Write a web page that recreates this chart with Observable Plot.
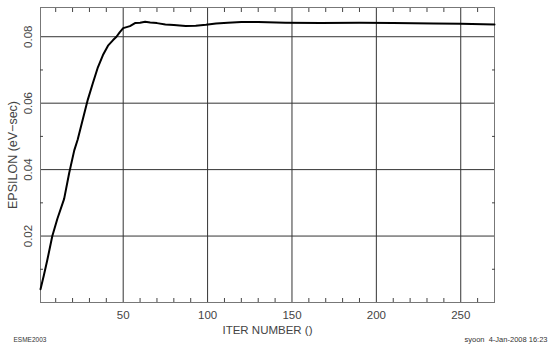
<!DOCTYPE html>
<html>
<head>
<meta charset="utf-8">
<script src="https://cdn.jsdelivr.net/npm/d3@7"></script>
<script src="https://cdn.jsdelivr.net/npm/@observablehq/plot@0.6"></script>
<style>
  html, body { margin: 0; padding: 0; background: white; }
</style>
</head>
<body>
<div id="chart"></div>
<script>
const iterNumber = [1, 3, 5, 8, 11, 15, 18, 21, 23, 26, 29, 32, 35, 38, 41, 44, 46, 48, 50, 54, 57, 60, 63, 66, 70, 75, 80, 87, 93, 99, 105, 112, 120, 130, 146, 167, 190, 210, 234, 250, 270];
const epsilon = [0.0040, 0.0082, 0.0127, 0.0200, 0.0252, 0.0312, 0.0390, 0.0458, 0.0490, 0.0550, 0.0610, 0.0660, 0.0708, 0.0745, 0.0773, 0.0790, 0.0800, 0.0814, 0.0826, 0.0832, 0.0841, 0.0842, 0.0845, 0.0843, 0.0841, 0.0837, 0.0835, 0.0832, 0.0833, 0.0836, 0.0840, 0.0842, 0.0844, 0.0844, 0.0842, 0.0841, 0.0842, 0.0841, 0.0840, 0.0839, 0.0837];
const xTicks = [50, 100, 150, 200, 250];
const xMinor = [10, 20, 30, 40, 60, 70, 80, 90, 110, 120, 130, 140, 160, 170, 180, 190, 210, 220, 230, 240, 260];
const yTicks = [0.02, 0.04, 0.06, 0.08];
const yMinor = [0.01, 0.03, 0.05, 0.07];
const yTickLabels = ["0.02", "0.04", "0.06", "0.08"];
const xTitle = "ITER NUMBER ()";
const yTitle = "EPSILON (eV\u2212sec)";
const leftNote = "ESME2003";
const rightNote = "syoon  4-Jan-2008 16:23";

const data = iterNumber.map((x, i) => ({iter: x, eps: epsilon[i]}));
const yLab = yTicks.map((v, i) => ({v, t: yTickLabels[i]}));

const chart = Plot.plot({
  width: 550,
  height: 350,
  marginLeft: 40,
  marginRight: 56,
  marginTop: 7,
  marginBottom: 48,
  style: {fontFamily: "'Liberation Sans', Arial, sans-serif", fontSize: "11px", color: "#444", background: "white"},
  x: {domain: [1, 270]},
  y: {domain: [0, 0.0888]},
  marks: [
    Plot.gridX(xTicks, {stroke: "#333", strokeOpacity: 1}),
    Plot.gridY(yTicks, {stroke: "#333", strokeOpacity: 1}),
    Plot.frame({stroke: "#777"}),
    Plot.axisX(xTicks, {tickSize: 0, tickPadding: 8, label: null, fill: "#444", fontSize: 11.5}),
    Plot.axisX(xMinor, {anchor: "bottom", tickSize: 4, dy: -4, text: null, label: null, stroke: "#444"}),
    Plot.axisX(xMinor, {anchor: "top", tickSize: 4, dy: 4, text: null, label: null, stroke: "#444"}),
    Plot.axisY(yMinor, {anchor: "left", tickSize: 3, dx: 3, text: null, label: null, stroke: "#444"}),
    Plot.axisY(yMinor, {anchor: "right", tickSize: 3, dx: -3, text: null, label: null, stroke: "#444"}),
    Plot.text(yLab, {y: "v", text: "t", frameAnchor: "left", textAnchor: "middle", rotate: -90, dx: -12, fill: "#444", fontSize: 11.5}),
    Plot.text([yTitle], {frameAnchor: "left", textAnchor: "middle", rotate: -90, dx: -28, fill: "#444", fontSize: 12.5}),
    Plot.text([xTitle], {frameAnchor: "bottom", textAnchor: "middle", dy: 31, fill: "#444", fontSize: 11.5}),
    Plot.text([leftNote], {frameAnchor: "bottom-left", textAnchor: "start", dx: -27, dy: 39, fill: "#333", fontSize: 6.5}),
    Plot.text([rightNote], {frameAnchor: "bottom-right", textAnchor: "end", dx: 53, dy: 39, fill: "#333", fontSize: 7.5}),
    Plot.line(data, {x: "iter", y: "eps", stroke: "black", strokeWidth: 2})
  ]
});
document.getElementById("chart").appendChild(chart);
</script>
</body>
</html>
